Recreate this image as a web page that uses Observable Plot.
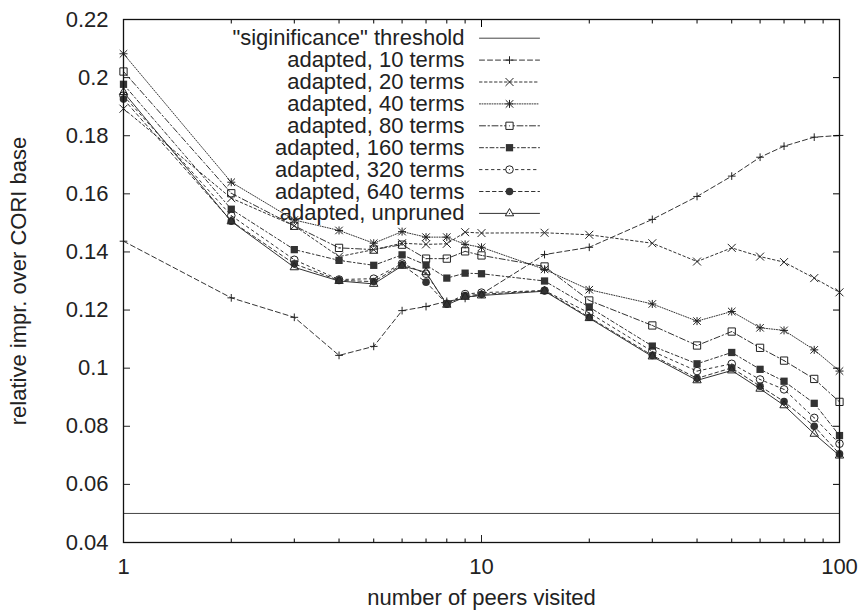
<!DOCTYPE html>
<html><head><meta charset="utf-8">
<script src="https://cdn.jsdelivr.net/npm/d3@7"></script>
<script src="https://cdn.jsdelivr.net/npm/@observablehq/plot@0.6"></script>
<style>
body{margin:0;background:#fff;}
#chart svg{font-family:"Liberation Sans", Arial, Helvetica, sans-serif;background:#fff;}
</style></head><body><div id="chart"></div>
<script>
// ---- data ----
const peers = [1,2,3,4,5,6,7,8,9,10,15,20,30,40,50,60,70,85,100];
const threshold = 0.05;
const terms10  = [0.1437,0.1242,0.1175,0.1044,0.1075,0.1198,0.1212,0.1230,0.1240,0.1255,0.1391,0.1416,0.1512,0.1591,0.1661,0.1726,0.1764,0.1795,0.1801];
const terms20  = [0.1893,0.1585,0.1490,0.1384,0.1408,0.1430,0.1426,0.1428,0.1468,0.1465,0.1466,0.1459,0.1430,0.1367,0.1414,0.1384,0.1365,0.1310,0.1261];
const terms40  = [0.2082,0.1640,0.1510,0.1474,0.1430,0.1470,0.1451,0.1451,0.1426,0.1416,0.1340,0.1270,0.1221,0.1162,0.1195,0.1139,0.1130,0.1063,0.0990];
const terms80  = [0.2021,0.1602,0.1490,0.1414,0.1408,0.1425,0.1377,0.1377,0.1402,0.1388,0.1350,0.1233,0.1147,0.1078,0.1126,0.1070,0.1026,0.0963,0.0884];
const terms160 = [0.1977,0.1547,0.1408,0.1371,0.1354,0.1390,0.1355,0.1310,0.1327,0.1325,0.1300,0.1210,0.1076,0.1015,0.1054,0.0996,0.0955,0.0879,0.0768];
const terms320 = [0.1938,0.1525,0.1373,0.1305,0.1308,0.1360,0.1325,0.1222,0.1255,0.1260,0.1267,0.1190,0.1058,0.0990,0.1015,0.0961,0.0927,0.0829,0.0740];
const terms640 = [0.1926,0.1506,0.1359,0.1302,0.1298,0.1356,0.1296,0.1221,0.1250,0.1254,0.1267,0.1175,0.1044,0.0965,0.1001,0.0938,0.0885,0.0800,0.0705];
const unpruned = [0.1950,0.1505,0.1347,0.1300,0.1290,0.1352,0.1330,0.1218,0.1245,0.1250,0.1265,0.1172,0.1040,0.0958,0.0992,0.0929,0.0872,0.0774,0.0699];

const seriesNames = ["\"siginificance\" threshold","adapted, 10 terms","adapted, 20 terms","adapted, 40 terms","adapted, 80 terms","adapted, 160 terms","adapted, 320 terms","adapted, 640 terms","adapted, unpruned"];
const yTicks = [0.04,0.06,0.08,0.1,0.12,0.14,0.16,0.18,0.2,0.22];
const xMajor = [1,10,100];
const xMinor = [2,3,4,5,6,7,8,9,20,30,40,50,60,70,80,90];
const xLabel = "number of peers visited";
const yLabel = "relative impr. over CORI base";

// ---- styles ----
const INK = "#333";
const FS = 22;
const series = [
  {values: terms10,  dash: "5,3",         syms: [{symbol:"plus", r:2.6}]},
  {values: terms20,  dash: "2.5,2.5",     syms: [{symbol:"times", r:3.7}]},
  {values: terms40,  dash: "1,1.5",       syms: [{symbol:"plus", r:2.7},{symbol:"times", r:3.5}]},
  {values: terms80,  dash: "6,2.5,1.5,2.5", syms: [{symbol:"square", r:4.1, fill:"none"},{symbol:"circle", r:0.6, fill:INK}]},
  {values: terms160, dash: "4,2.5,1.5,2.5", syms: [{symbol:"square", r:4.1, fill:INK}]},
  {values: terms320, dash: "2.5,3.5",     syms: [{symbol:"circle", r:3.8, fill:"none"},{symbol:"circle", r:0.6, fill:INK}]},
  {values: terms640, dash: "3.5,3",       syms: [{symbol:"circle", r:3.8, fill:INK}]},
  {values: unpruned, dash: null,          syms: [{symbol:"triangle", r:3.1, fill:"none"},{symbol:"circle", r:0.6, fill:INK}]}
];

const lineShape = {draw(context, l) { context.moveTo(0, 0); context.lineTo(0, -l); }};
const fmt = d3.format(".2~f");

const marks = [];
// threshold
marks.push(Plot.ruleY([threshold], {stroke: "#444", strokeWidth: 1}));

series.forEach((s) => {
  const rows = peers.map((p, i) => ({peers: p, value: s.values[i]}));
  marks.push(Plot.line(rows, {x: "peers", y: "value", stroke: INK, strokeWidth: 1, strokeDasharray: s.dash || undefined}));
  s.syms.forEach(m => {
    const filled = m.fill && m.fill !== "none";
    marks.push(Plot.dot(rows, {x: "peers", y: "value", symbol: m.symbol, r: m.r,
      fill: filled ? m.fill : "none", stroke: filled ? "none" : "#222", strokeWidth: 1}));
  });
});

// legend (inside plot frame, top)
const legTextDx = 341, legLineDx = 356, legLen = 60, legDy0 = 18.7, legStep = 21.9;
seriesNames.forEach((name, i) => {
  const dy = legDy0 + legStep * i;
  marks.push(Plot.text([name], {frameAnchor: "top-left", dx: legTextDx, dy, textAnchor: "end", lineAnchor: "middle", fontSize: FS, fill: "#222"}));
  const s = i === 0 ? {dash: null, syms: []} : series[i - 1];
  marks.push(Plot.vector([0], {frameAnchor: "top-left", dx: legLineDx, dy, rotate: 90, length: legLen, anchor: "start",
    shape: lineShape, stroke: i === 0 ? "#444" : INK, strokeWidth: 1, strokeDasharray: s.dash || undefined}));
  s.syms.forEach(m => {
    const filled = m.fill && m.fill !== "none";
    marks.push(Plot.dot([0], {frameAnchor: "top-left", dx: legLineDx + legLen / 2, dy, symbol: m.symbol, r: m.r,
      fill: filled ? m.fill : "white", stroke: filled ? "none" : "#222", strokeWidth: 1}));
  });
});

// axes (gnuplot-style inward ticks, mirrored)
marks.push(Plot.axisY(yTicks, {anchor: "left", tickSize: -7, tickPadding: 22, tickFormat: fmt, fontSize: FS, label: null, color: "#222"}));
marks.push(Plot.axisY(yTicks, {anchor: "right", tickSize: -7, tickFormat: () => "", label: null}));
marks.push(Plot.axisX(xMajor, {anchor: "bottom", tickSize: -7, tickPadding: 23, tickFormat: d => String(d), fontSize: FS, label: null, color: "#222"}));
marks.push(Plot.axisX(xMajor, {anchor: "top", tickSize: -7, tickFormat: () => "", label: null}));
marks.push(Plot.axisX(xMinor, {anchor: "bottom", tickSize: -3.5, tickFormat: () => "", label: null}));
marks.push(Plot.axisX(xMinor, {anchor: "top", tickSize: -3.5, tickFormat: () => "", label: null}));
marks.push(Plot.frame({stroke: "#111", strokeWidth: 1.3}));
marks.push(Plot.text([yLabel], {frameAnchor: "left", dx: -105, rotate: -90, textAnchor: "middle", lineAnchor: "middle", fontSize: FS, fill: "#222"}));
marks.push(Plot.text([xLabel], {frameAnchor: "bottom", dy: 55, textAnchor: "middle", lineAnchor: "middle", fontSize: FS, fill: "#222"}));

const chart = Plot.plot({
  width: 863, height: 612,
  marginLeft: 123, marginRight: 24, marginTop: 19, marginBottom: 70,
  style: {fontSize: FS + "px", background: "#fff"},
  x: {type: "log", domain: [1, 100]},
  y: {domain: [0.04, 0.22]},
  marks
});
document.getElementById("chart").appendChild(chart);
</script></body></html>
